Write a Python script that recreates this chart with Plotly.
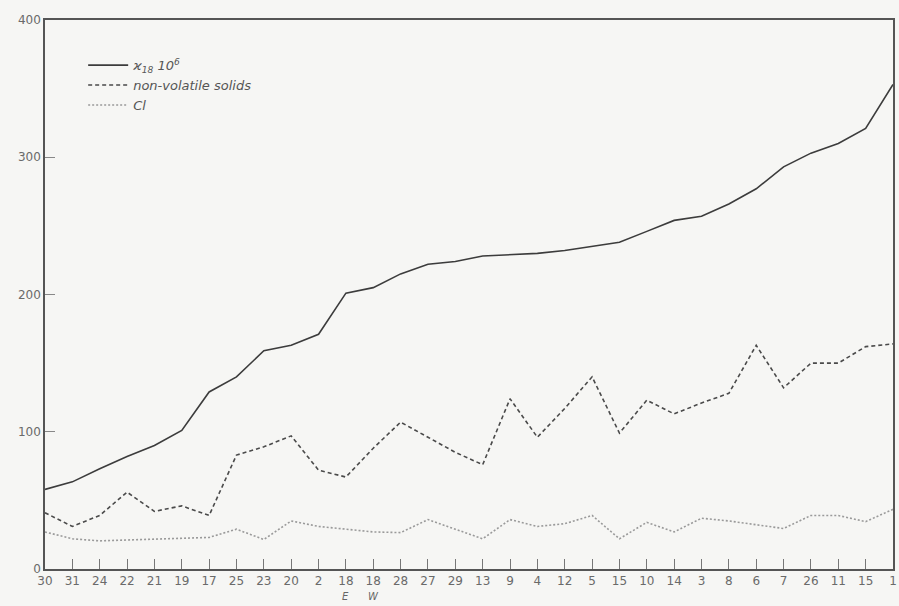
import plotly.graph_objects as go

# Sample labels along the x axis (station numbers)
stations = ["30", "31", "24", "22", "21", "19", "17", "25", "23", "20", "2", "18",
            "18", "28", "27", "29", "13", "9", "4", "12", "5", "15", "10", "14",
            "3", "8", "6", "7", "26", "11", "15", "1"]

# Conductivity kappa_18 * 10^6
kappa = [58, 63.5, 73, 82, 90, 101, 129, 140, 159, 163, 171, 201,
         205, 215, 222, 224, 228, 229, 230, 232, 235, 238, 246, 254,
         257, 266, 277, 293, 303, 310, 321, 353]

# Non-volatile solids
solids = [41, 31, 39, 56, 42, 46, 39, 83, 89, 97, 72, 67,
          88, 107, 96, 85, 76, 124, 96, 117, 140, 99, 123, 113,
          121, 128, 163, 132, 150, 150, 162, 164]

# Chloride
chloride = [27, 22, 20.5, 21, 22, 22, 23, 29, 21.5, 35, 31, 29,
            27, 26.5, 36, 29, 22, 36, 31, 33, 39, 22, 34, 27,
            37, 35, 32, 29.5, 39, 39, 34.5, 43.5]

y_ticks = [0, 100, 200, 300, 400]

xs = list(range(len(stations)))

fig = go.Figure()
fig.add_trace(go.Scatter(
    x=xs, y=kappa, mode="lines",
    name="<i>ϰ<sub>18</sub> 10<sup>6</sup></i>",
    line=dict(color="#3c3c3c", width=1.6)))
fig.add_trace(go.Scatter(
    x=xs, y=solids, mode="lines",
    name="<i>non-volatile solids</i>",
    line=dict(color="#4a4a4a", width=1.6, dash="4px,3px")))
fig.add_trace(go.Scatter(
    x=xs, y=chloride, mode="lines",
    name="<i>Cl</i>",
    line=dict(color="#9a9a9a", width=1.6, dash="2px,2px")))

# E / W markers under the two "18" stations
for pos, letter in [(11, "E"), (12, "W")]:
    fig.add_annotation(x=pos, y=-0.051, xref="x", yref="paper",
                       text=f"<i>{letter}</i>", showarrow=False,
                       yanchor="middle", font=dict(size=10, color="#666"))

fig.update_layout(
    width=899, height=606,
    margin=dict(l=45, r=2, t=20, b=37),
    paper_bgcolor="#f6f6f4",
    plot_bgcolor="#f6f6f4",
    font=dict(family="DejaVu Sans", size=12, color="#6a6a6a"),
    showlegend=True,
    legend=dict(x=0.045, y=0.945, xanchor="left", yanchor="top",
                bgcolor="rgba(0,0,0,0)", borderwidth=0,
                font=dict(family="DejaVu Sans", size=13, color="#555"),
                tracegroupgap=0, itemwidth=40),
)
fig.update_xaxes(
    range=[0, len(stations) - 1],
    tickmode="array", tickvals=xs, ticktext=stations,
    ticks="inside", ticklen=10, tickcolor="#777", tickwidth=1,
    showgrid=False, zeroline=False,
    showline=True, linecolor="#555", linewidth=1.5, mirror=True,
    tickfont=dict(size=12, color="#6a6a6a"),
)
fig.update_yaxes(
    range=[0, 400],
    tickmode="array", tickvals=y_ticks,
    ticks="inside", ticklen=10, tickcolor="#888", tickwidth=1,
    showgrid=False, zeroline=False,
    showline=True, linecolor="#555", linewidth=1.5, mirror=True,
    tickfont=dict(size=12, color="#6a6a6a"),
)

fig.write_html("out.html")
